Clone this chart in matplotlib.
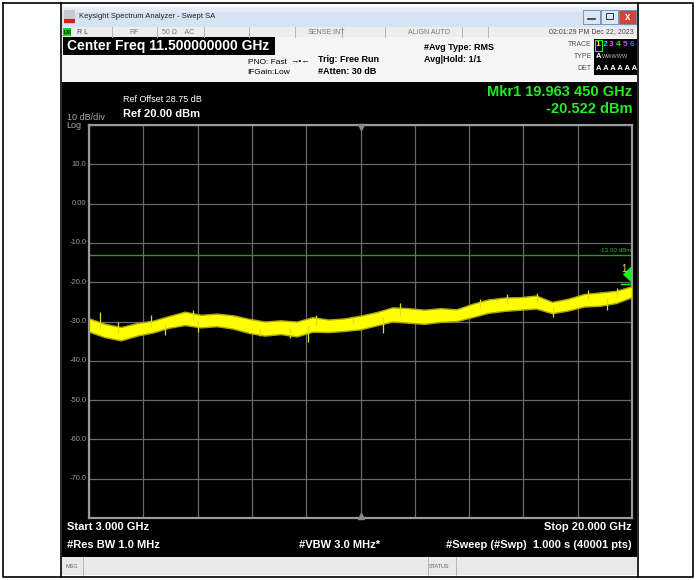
import numpy as np
import matplotlib.pyplot as plt
from matplotlib.patches import Rectangle, Polygon

plt.rcParams['font.family'] = ['Liberation Sans Narrow', 'Liberation Sans', 'DejaVu Sans']

# trace envelope (GHz, dBm)
freq = [3.0, 3.5, 4.0, 4.5, 5.0, 5.5, 6.0, 6.5, 7.0, 7.5, 8.0, 8.5, 9.0, 9.5,
        10.0, 10.5, 11.0, 11.5, 12.0, 12.5, 13.0, 13.5, 14.0, 14.5, 15.0, 15.5,
        16.0, 16.5, 17.0, 17.5, 18.0, 18.5, 19.0, 19.5, 20.0]
upper = [-29.2, -30.6, -31.4, -30.4, -29.8, -28.6, -27.5, -28.3, -28.0, -28.4,
         -29.3, -30.0, -29.7, -30.0, -28.9, -29.5, -29.2, -28.5, -27.6, -26.4,
         -26.6, -27.0, -26.6, -26.9, -25.5, -24.4, -23.9, -23.8, -23.4, -25.0,
         -24.2, -23.0, -22.6, -22.2, -21.0]
lower = [-32.6, -34.0, -34.8, -33.6, -32.8, -31.6, -30.9, -31.5, -31.2, -31.8,
         -32.9, -33.6, -33.2, -33.8, -32.6, -32.7, -32.4, -32.0, -31.0, -30.0,
         -30.3, -30.6, -30.1, -29.9, -28.9, -27.8, -27.3, -27.0, -26.7, -27.9,
         -27.2, -26.2, -26.0, -25.3, -23.8]
# isolated noise spikes (GHz, tip level in dBm)
spike_f = [3.35, 3.9, 4.95, 5.38, 6.25, 6.4, 8.35, 9.29, 9.86, 10.1, 11.27,
           12.2, 12.74, 15.24, 16.09, 17.02, 17.53, 18.62, 19.22, 19.53]
spike_tip = [-27.7, -30.2, -28.4, -33.4, -27.1, -32.6, -33.8, -34.1, -35.1, -28.3, -28.9,
             -33.0, -25.2, -24.4, -23.0, -22.8, -28.8, -22.0, -27.1, -21.5]

y_ticks = [10, 0, -10, -20, -30, -40, -50, -60, -70]
y_tick_labels = ['10.0', '0.00', '-10.0', '-20.0', '-30.0', '-40.0', '-50.0', '-60.0', '-70.0']
limit_db = -13.0
mkr_f, mkr_db = 19.96345, -20.522

W, H = 696, 580
fig = plt.figure(figsize=(W / 100, H / 100), dpi=100)
fig.patch.set_facecolor('white')

# screen furniture in pixel coordinates
bg = fig.add_axes([0, 0, 1, 1])
bg.set_xlim(0, W)
bg.set_ylim(H, 0)
bg.axis('off')

def box(x0, y0, x1, y1, fc, ec='none', lw=0):
    bg.add_patch(Rectangle((x0, y0), x1 - x0, y1 - y0, facecolor=fc, edgecolor=ec, linewidth=lw))

def txt(x, y, s, size=7, color='black', ha='left', weight='normal'):
    bg.text(x, y, s, fontsize=size, color=color, ha=ha, va='center', fontweight=weight)

# title bar
box(62, 7, 637, 27, '#d7e3f2')
box(62, 7, 637, 12, '#e4edf8')
box(64, 10, 75, 24, '#c8c8c8')
box(64, 19, 75, 23, '#d42020')
txt(79, 17, 'Keysight Spectrum Analyzer - Swept SA', size=5.5, color='#222222')
for x0, fc in [(583, '#dce7f5'), (601, '#dce7f5'), (619, '#d0462f')]:
    box(x0, 10, x0 + 17, 24, fc, ec='#6f86a8', lw=0.6)
bg.plot([588, 595], [19, 19], color='#333333', lw=1.2)
box(606, 13, 613, 19, 'none', ec='#333333', lw=0.7)
txt(627.5, 17, 'x', size=7, color='white', ha='center', weight='bold')

# status row
box(62, 27, 637, 37, '#ededed')
box(63, 28, 71, 36, '#14d014')
txt(67, 32, 'LXI', size=3.5, ha='center', weight='bold')
for xs in [112, 157, 204, 249, 295, 342, 385, 462, 488]:
    bg.plot([xs, xs], [27, 37], color='#b5b5b5', lw=0.7)
txt(77, 32, 'R L', size=5, color='#444444')
txt(134, 32, 'RF', size=5, color='#777777', ha='center')
txt(162, 32, '50 Ω    AC', size=5, color='#777777')
txt(308, 32, 'SENSE:INT', size=5, color='#777777')
txt(408, 32, 'ALIGN AUTO', size=5, color='#777777')
txt(634, 32, '02:01:29 PM Dec 22, 2023', size=5, color='#444444', ha='right')

# settings panel
box(62, 37, 637, 82, '#f5f5f5')
box(63, 37, 275, 55, 'black')
txt(67, 46, 'Center Freq 11.500000000 GHz', size=10, color='white', weight='bold')
txt(248, 62, 'PNO: Fast', size=6)
txt(290, 61, '→•←', size=6)
txt(247, 73, 'IFGain:Low', size=6)
txt(318, 59, 'Trig: Free Run', size=6.5, weight='bold')
txt(318, 72, '#Atten: 30 dB', size=6.5, weight='bold')
txt(424, 47, '#Avg Type: RMS', size=6.5, weight='bold')
txt(424, 60, 'Avg|Hold: 1/1', size=6.5, weight='bold')
txt(592, 45, 'TRACE', size=5, color='#555555', ha='right')
txt(592, 57, 'TYPE', size=5, color='#555555', ha='right')
txt(592, 68, 'DET', size=5, color='#555555', ha='right')
box(594, 39, 637, 75, 'black')
for k, c in enumerate(['#ffff00', '#00e0ff', '#ff40ff', '#20ff20', '#c040ff', '#4060ff']):
    txt(598 + k * 6.8, 45, str(k + 1), size=6, color=c, ha='center', weight='bold')
box(594.5, 40, 601.5, 50.5, 'none', ec='#20ff20', lw=0.7)
txt(596, 57, 'A', size=5.5, color='white', weight='bold')
txt(602, 57, 'WWWWW', size=4, color='#bbbbbb')
txt(596, 68, 'A A A A A A', size=5.5, color='white', weight='bold')

# measurement screen
box(62, 82, 637, 557, 'black')
txt(123, 100, 'Ref Offset 28.75 dB', size=6.5, color='white')
txt(123, 114, 'Ref 20.00 dBm', size=8, color='white', weight='bold')
txt(67, 117, '10 dB/div', size=6.5, color='#aaaaaa')
txt(66, 125, 'Log', size=6.5, color='#aaaaaa')
txt(632, 92, 'Mkr1 19.963 450 GHz', size=10.5, color='#22ee22', ha='right', weight='bold')
txt(632, 109, '-20.522 dBm', size=10.5, color='#22ee22', ha='right', weight='bold')
txt(67, 527, 'Start 3.000 GHz', size=8, color='white', weight='bold')
txt(632, 527, 'Stop 20.000 GHz', size=8, color='white', ha='right', weight='bold')
txt(67, 545, '#Res BW 1.0 MHz', size=8, color='white', weight='bold')
txt(340, 545, '#VBW 3.0 MHz*', size=8, color='white', ha='center', weight='bold')
txt(632, 545, '#Sweep (#Swp)  1.000 s (40001 pts)', size=8, color='white', ha='right', weight='bold')

# message bar
box(62, 557, 637, 575, '#e9e9e9')
for xs in [83, 428, 456]:
    bg.plot([xs, xs], [557, 575], color='#b5b5b5', lw=0.7)
txt(65, 566, 'MSG', size=4, color='#666666')
txt(429, 566, 'STATUS', size=4, color='#666666')

# document frame
bg.plot([3, 693, 693, 3, 3], [3, 3, 577, 577, 3], color='black', lw=1.2)
bg.plot([61, 61], [3, 577], color='black', lw=1.2)
bg.plot([637.5, 637.5], [3, 577], color='black', lw=1.2)

# graticule
left, right, top, bottom = 89, 632, 125, 518
ax = fig.add_axes([left / W, 1 - bottom / H, (right - left) / W, (bottom - top) / H])
ax.set_facecolor('black')
ax.set_xlim(3, 20)
ax.set_ylim(-80, 20)
ax.set_xticks(np.linspace(3, 20, 11))
ax.set_yticks(np.arange(-80, 21, 10))
ax.grid(True, color='#6a6a6a', lw=0.9)
ax.tick_params(length=0, labelbottom=False, labelleft=False)
for s in ax.spines.values():
    s.set_color('#9a9a9a')
    s.set_linewidth(1.6)
for v, lab in zip(y_ticks, y_tick_labels):
    ax.text(-0.005, (v + 80) / 100, lab, transform=ax.transAxes, ha='right', va='center',
            fontsize=5.5, color='#9a9a9a')

ax.axhline(limit_db, color='#1e9e1e', lw=1.0)
ax.text(0.998, (limit_db + 80) / 100 + 0.004, '-13.00 dBm', transform=ax.transAxes, ha='right',
        va='bottom', fontsize=4.5, color='#22bb22')

ax.fill_between(freq, lower, upper, color='#ffff00', edgecolor='#a8a800', lw=1.0, zorder=3)
mid = np.interp(spike_f, freq, (np.array(upper) + np.array(lower)) / 2)
ax.vlines(spike_f, mid, spike_tip, color='#e0e000', lw=0.9, zorder=3)

# centre trigger ticks
ax.plot([11.5], [19.6], marker='v', ms=5, color='#8a8a8a', clip_on=False, zorder=4)
ax.plot([11.5], [-79.6], marker='^', ms=5, color='#8a8a8a', clip_on=False, zorder=4)

# marker 1
ax.add_patch(Polygon([[mkr_f, mkr_db + 0.6], [mkr_f + 0.25, mkr_db + 2.5],
                      [mkr_f, mkr_db + 4.4], [mkr_f - 0.25, mkr_db + 2.5]],
                     closed=True, facecolor='#20ee20', edgecolor='none', zorder=5))
ax.plot([mkr_f - 0.3, mkr_f], [mkr_db, mkr_db], color='#20ee20', lw=1, zorder=5)
ax.text(mkr_f - 0.12, mkr_db + 4.0, '1', fontsize=7, color='#e0e040', ha='right', va='center', zorder=5)

fig.savefig('out.png', dpi=100, facecolor='white')
